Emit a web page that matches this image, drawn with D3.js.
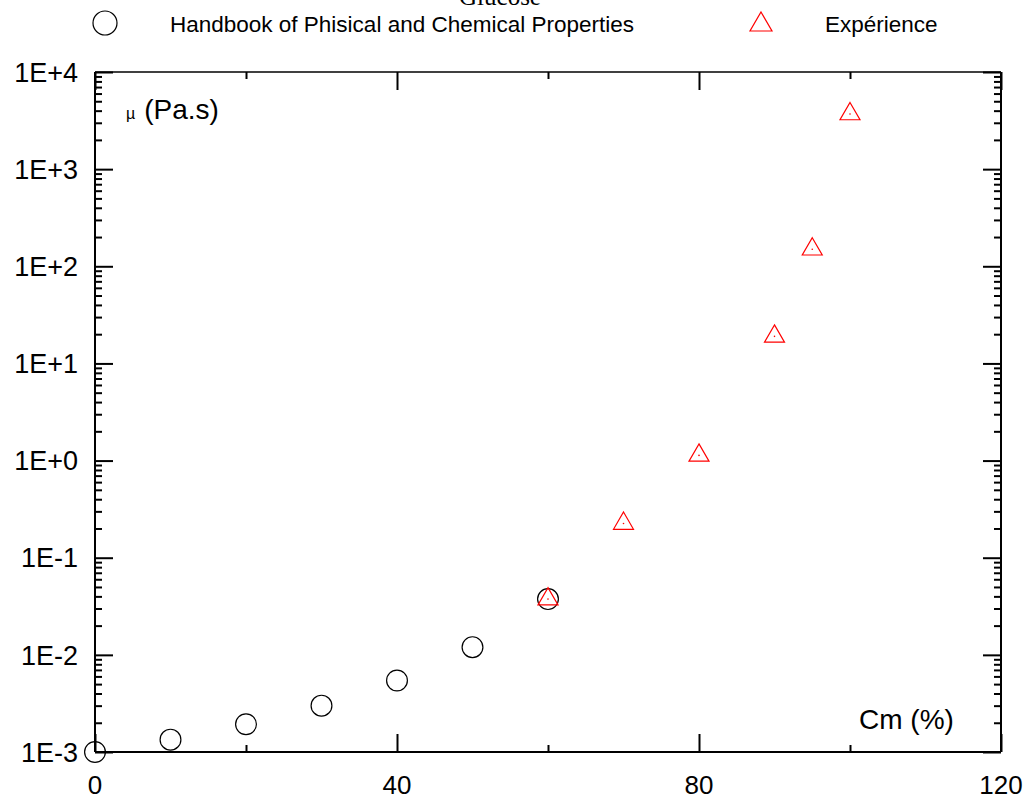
<!DOCTYPE html>
<html>
<head>
<meta charset="utf-8">
<script src="https://cdn.jsdelivr.net/npm/d3@7"></script>
<style>
  html, body { margin: 0; padding: 0; background: #fff; }
  svg { display: block; }
  text { font-family: "Liberation Sans", Arial, sans-serif; fill: #000; }
</style>
</head>
<body>
<svg id="chart" width="1027" height="801"></svg>
<script>
// Glucose viscosity vs mass concentration
const handbookCm = [0, 10, 20, 30, 40, 50, 60];
const handbookMu = [0.00100, 0.00134, 0.00193, 0.00300, 0.00545, 0.0120, 0.0375];

const experienceCm = [60, 70, 80, 90, 95, 100];
const experienceMu = [0.0375, 0.225, 1.13, 19.0, 150, 3700];

const xTicks = [0, 40, 80, 120];
const xMinorTicks = [20, 60, 100];
const yTickValues = [1e-3, 1e-2, 1e-1, 1e0, 1e1, 1e2, 1e3, 1e4];
const yTickLabels = ["1E-3", "1E-2", "1E-1", "1E+0", "1E+1", "1E+2", "1E+3", "1E+4"];

(function () {
const svg = d3.select("#chart");
const plotLeft = 95, plotRight = 1001, plotTop = 72, plotBottom = 752;

const x = d3.scaleLinear().domain([0, 120]).range([plotLeft, plotRight]);
const y = d3.scaleLog().domain([1e-3, 1e4]).range([plotBottom, plotTop]);

// minor log ticks 2..9 in each decade
const yMinor = [];
for (let e = -3; e < 4; e++) for (let m = 2; m <= 9; m++) yMinor.push(m * Math.pow(10, e));

const majorLen = 18, minorLen = 7;

// title (mostly above the page)
svg.append("text").attr("x", 500).attr("y", 5).attr("text-anchor", "middle")
  .style("font-family", "'Liberation Serif', 'Times New Roman', serif")
  .style("font-size", "25px").text("Glucose");

// frame
const frame = svg.append("g").attr("stroke", "#000").attr("fill", "none");
frame.append("line").attr("x1", plotLeft).attr("x2", plotLeft).attr("y1", plotTop).attr("y2", plotBottom).attr("stroke-width", 2);
frame.append("line").attr("x1", plotLeft).attr("x2", plotRight).attr("y1", plotBottom).attr("y2", plotBottom).attr("stroke-width", 2);
frame.append("line").attr("x1", plotRight).attr("x2", plotRight).attr("y1", plotTop).attr("y2", plotBottom).attr("stroke-width", 2);
frame.append("line").attr("x1", plotLeft).attr("x2", plotRight).attr("y1", plotTop).attr("y2", plotTop).attr("stroke-width", 1.6);

// inward ticks on all four sides
const leftAxis = d3.axisRight(y).tickValues(yTickValues).tickSize(majorLen).tickFormat("");
const leftMinor = d3.axisRight(y).tickValues(yMinor).tickSize(minorLen).tickFormat("");
const rightAxis = d3.axisLeft(y).tickValues(yTickValues).tickSize(majorLen).tickFormat("");
const rightMinor = d3.axisLeft(y).tickValues(yMinor).tickSize(minorLen).tickFormat("");
const bottomAxis = d3.axisTop(x).tickValues(xTicks).tickSize(majorLen).tickFormat("");
const bottomMinor = d3.axisTop(x).tickValues(xMinorTicks).tickSize(minorLen).tickFormat("");
const topAxis = d3.axisBottom(x).tickValues(xTicks).tickSize(majorLen).tickFormat("");
const topMinor = d3.axisBottom(x).tickValues(xMinorTicks).tickSize(minorLen).tickFormat("");

function drawAxis(axis, tx, ty) {
  const g = svg.append("g").attr("transform", `translate(${tx},${ty})`).call(axis);
  g.select(".domain").remove();
  g.selectAll(".tick line").attr("stroke", "#000").attr("stroke-width", 2);
}
drawAxis(leftAxis, plotLeft, 0);
drawAxis(leftMinor, plotLeft, 0);
drawAxis(rightAxis, plotRight, 0);
drawAxis(rightMinor, plotRight, 0);
drawAxis(bottomAxis, 0, plotBottom);
drawAxis(bottomMinor, 0, plotBottom);
drawAxis(topAxis, 0, plotTop);
drawAxis(topMinor, 0, plotTop);

// tick labels
svg.append("g").selectAll("text").data(yTickValues).join("text")
  .attr("x", 78).attr("y", d => y(d)).attr("dy", "0.36em")
  .attr("text-anchor", "end").style("font-size", "27px")
  .text((d, i) => yTickLabels[i]);

svg.append("g").selectAll("text").data(xTicks).join("text")
  .attr("x", d => x(d)).attr("y", 794)
  .attr("text-anchor", "middle").style("font-size", "26px")
  .text(d => d);

// axis titles inside the frame
const muLabel = svg.append("text").attr("x", 126).attr("y", 119).style("font-size", "28px");
muLabel.append("tspan").style("font-size", "16px").text("µ");
muLabel.append("tspan").attr("dx", 9).text("(Pa.s)");

svg.append("text").attr("x", 859).attr("y", 729).style("font-size", "28px").text("Cm (%)");

// handbook circles
svg.append("g").selectAll("circle").data(handbookCm).join("circle")
  .attr("cx", d => x(d)).attr("cy", (d, i) => y(handbookMu[i])).attr("r", 10.4)
  .attr("fill", "none").attr("stroke", "#000").attr("stroke-width", 1.2);

// experimental triangles, centred on their centroid
const tri = "M0,-11.5 L10,5.8 L-10,5.8 Z";
const tg = svg.append("g").selectAll("g").data(experienceCm).join("g")
  .attr("transform", (d, i) => `translate(${x(d)},${y(experienceMu[i])})`);
tg.append("path").attr("d", tri).attr("fill", "none").attr("stroke", "#ff0000").attr("stroke-width", 1.2);
tg.append("circle").attr("r", 0.8).attr("fill", "#ff0000");

// legend
svg.append("circle").attr("cx", 105).attr("cy", 23).attr("r", 12)
  .attr("fill", "none").attr("stroke", "#000").attr("stroke-width", 1.2);
svg.append("text").attr("x", 170).attr("y", 32).style("font-size", "22.5px")
  .text("Handbook of Phisical and Chemical Properties");
svg.append("path").attr("d", "M761,12 L772,31 L750,31 Z")
  .attr("fill", "none").attr("stroke", "#ff0000").attr("stroke-width", 1.2);
svg.append("text").attr("x", 825).attr("y", 32).style("font-size", "22.5px").text("Expérience");
})();
</script>
</body>
</html>
